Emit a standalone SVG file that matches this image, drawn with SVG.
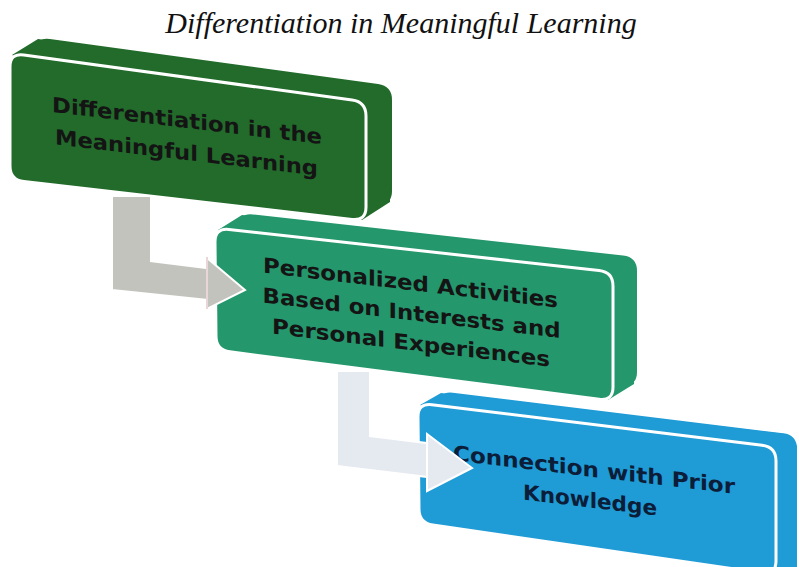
<svg xmlns="http://www.w3.org/2000/svg" width="799" height="567" viewBox="0 0 799 567">
  <style>
    .title { font-family: "Liberation Serif", "Times New Roman", serif; font-style: italic; font-size: 30px; fill: #111; }
    .lbl { font-family: "DejaVu Sans", "Open Sans", sans-serif; font-weight: bold; font-size: 21px; fill: #141414; text-anchor: middle; }
    .lbl3 { fill: #0b1d38; }
    .front { stroke: #ffffff; stroke-width: 3; }
    .g1 { fill: #226b2b; }
    .g2 { fill: #24976c; }
    .g3 { fill: #1f9bd6; }
    .arrow1 { fill: #c3c3be; stroke: #ffffff; stroke-width: 2; stroke-linejoin: miter; }
    .arrow2 { fill: #e5e9f0; stroke: #ffffff; stroke-width: 2; stroke-linejoin: miter; }
  </style>
  <defs>
    <path id="face1" d="M10,67 Q10,53 23.9,54.9 L352.1,100.1 Q366,102 366,116 L366,207 Q366,221 352.1,219.4 L23.9,181.6 Q10,180 10,166 Z"/>
    <path id="face2" d="M215,242 Q215,228 228.9,229.5 L599.1,270.5 Q613,272 613,286 L613,387 Q613,401 599.1,399.2 L229.9,351.8 Q216,350 216,336 Z"/>
    <path id="face3" d="M418,417 Q418,403 431.9,404.7 L762.1,445.3 Q776,447 776,461 L776,561 Q776,575 762.15,573 L432.85,525 Q419,523 419,509 Z"/>
  </defs>

  <rect width="799" height="567" fill="#ffffff"/>

  <text class="title" x="401" y="33" text-anchor="middle">Differentiation in Meaningful Learning</text>

  <g id="node3">
    <use href="#face3" class="g3" transform="translate(21,-12)"/>
    <polygon class="g3" points="420,405 441,393 785,434 797,446 797,567 776,567 600,480"/>
    <use href="#face3" class="g3 front"/>
    <g transform="translate(594,0) skewY(6.8)">
      <text class="lbl lbl3" x="0" y="477" textLength="282" lengthAdjust="spacingAndGlyphs">Connection with Prior</text>
      <text class="lbl lbl3" x="-4" y="508" textLength="134" lengthAdjust="spacingAndGlyphs">Knowledge</text>
    </g>
  </g>

  <g id="node2">
    <use href="#face2" class="g2" transform="translate(24,-15)"/>
    <polygon class="g2" points="218,230 242,215 628,257 636,268 634,384 608,400 400,300"/>
    <use href="#face2" class="g2 front"/>
    <g transform="translate(410,0) skewY(6.8)">
      <text class="lbl" x="0.5" y="290" textLength="295" lengthAdjust="spacingAndGlyphs">Personalized Activities</text>
      <text class="lbl" x="1.5" y="320" textLength="298" lengthAdjust="spacingAndGlyphs">Based on Interests and</text>
      <text class="lbl" x="1" y="350" textLength="278" lengthAdjust="spacingAndGlyphs">Personal Experiences</text>
    </g>
  </g>

  <g id="node1">
    <use href="#face1" class="g1" transform="translate(26,-16)"/>
    <polygon class="g1" points="12,55 38,39 380,86 391,98 390,202 362,220 180,140"/>
    <use href="#face1" class="g1 front"/>
    <g transform="translate(187,0) skewY(6.8)">
      <text class="lbl" x="0" y="128" textLength="270" lengthAdjust="spacingAndGlyphs">Differentiation in the</text>
      <text class="lbl" x="-0.5" y="160" textLength="263" lengthAdjust="spacingAndGlyphs">Meaningful Learning</text>
    </g>
  </g>

  <g id="connectors">
    <g id="arrow-1-2">
      <polygon class="arrow1" points="112,196 151,196 151,261 207,268 207,258 245,290 207,309 207,300 112,290"/>
      <line x1="207" y1="257" x2="207" y2="309" stroke="#ead6d9" stroke-width="2"/>
    </g>
    <g id="arrow-2-3">
      <polygon class="arrow2" points="337,371 370,371 370,436 427,443 427,434 472,468 427,491 427,477 337,466"/>
      <line x1="427" y1="434" x2="427" y2="491" stroke="#ffffff" stroke-width="2"/>
    </g>
  </g>
</svg>
